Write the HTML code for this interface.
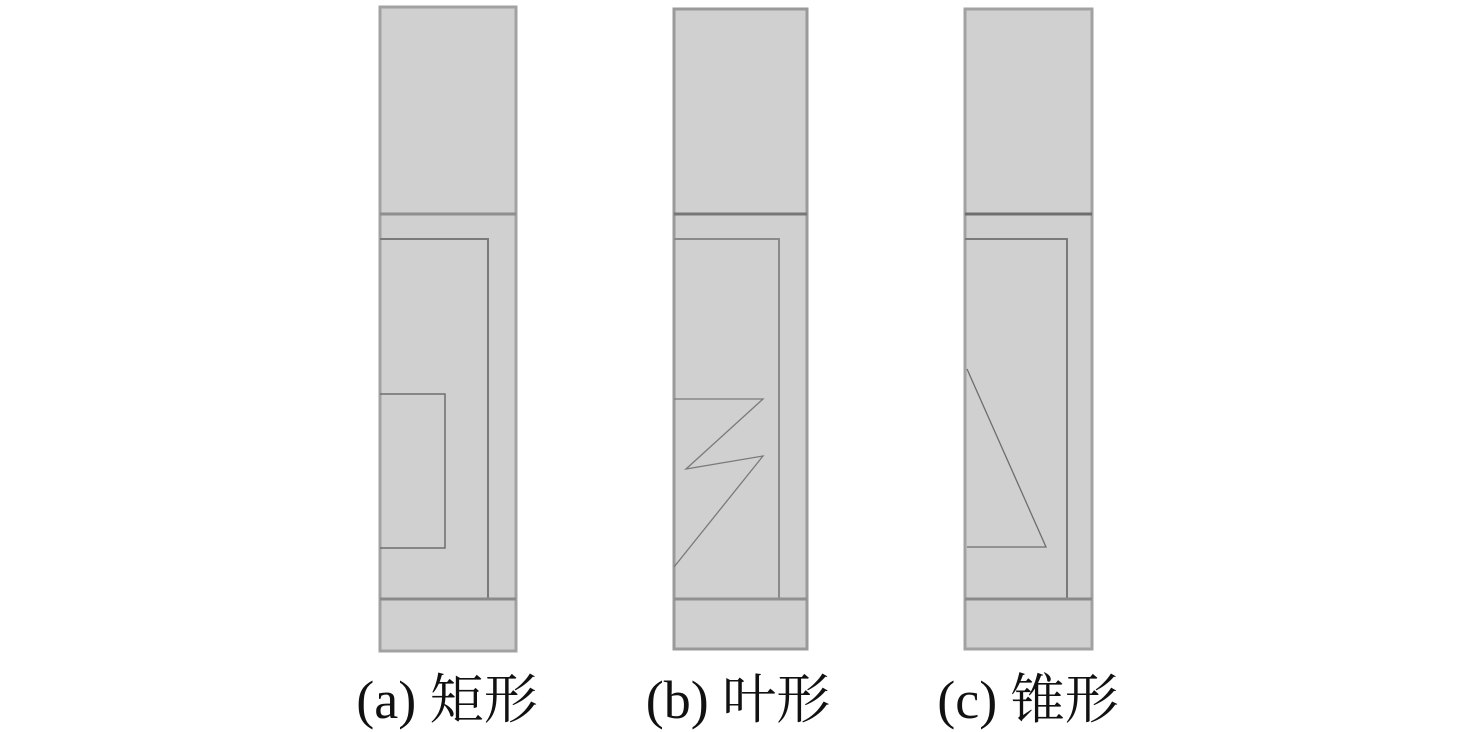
<!DOCTYPE html>
<html><head><meta charset="utf-8"><style>
html,body{margin:0;padding:0;background:#fff;}
svg{display:block;}
text{font-family:"Liberation Serif","Noto Serif CJK SC",serif;font-size:54px;fill:#111;}
</style></head><body>
<svg width="1476" height="732" viewBox="0 0 1476 732" xmlns="http://www.w3.org/2000/svg">
<g fill="none" stroke-width="2">
<rect x="380" y="7" width="136" height="644" fill="#d0d0d0" stroke="#a2a2a2" stroke-width="3"/>
<line x1="380" y1="214" x2="516" y2="214" stroke="#8e8e8e" stroke-width="3"/>
<polyline points="380,239 488,239 488,600" stroke="#7a7a7a"/>
<line x1="380" y1="599" x2="516" y2="599" stroke="#8a8a8a" stroke-width="3"/>
<polyline points="380,394 445,394 445,548 380,548" stroke="#6e6e6e" stroke-width="1.5"/>
<rect x="674" y="9" width="133" height="640" fill="#d0d0d0" stroke="#9a9a9a" stroke-width="3"/>
<line x1="674" y1="214" x2="807" y2="214" stroke="#777" stroke-width="3"/>
<polyline points="674,239 779,239 779,600" stroke="#8a8a8a"/>
<line x1="674" y1="599" x2="807" y2="599" stroke="#909090" stroke-width="3"/>
<polyline points="674,399 763,399 686,469 763,456 674,567" stroke="#7a7a7a" stroke-width="1.3"/>
<rect x="965" y="9" width="127" height="640" fill="#d0d0d0" stroke="#a2a2a2" stroke-width="3"/>
<line x1="965" y1="214" x2="1092" y2="214" stroke="#6e6e6e" stroke-width="3"/>
<polyline points="965,239 1067,239 1067,600" stroke="#7a7a7a"/>
<line x1="965" y1="599" x2="1092" y2="599" stroke="#8a8a8a" stroke-width="3"/>
<polyline points="967,369 1046,547 967,547" stroke="#6e6e6e" stroke-width="1.3"/>
</g>
<text x="447" y="718" text-anchor="middle">(a) 矩形</text>
<text x="738" y="718" text-anchor="middle">(b) 叶形</text>
<text x="1028" y="718" text-anchor="middle">(c) 锥形</text>
</svg>
</body></html>
